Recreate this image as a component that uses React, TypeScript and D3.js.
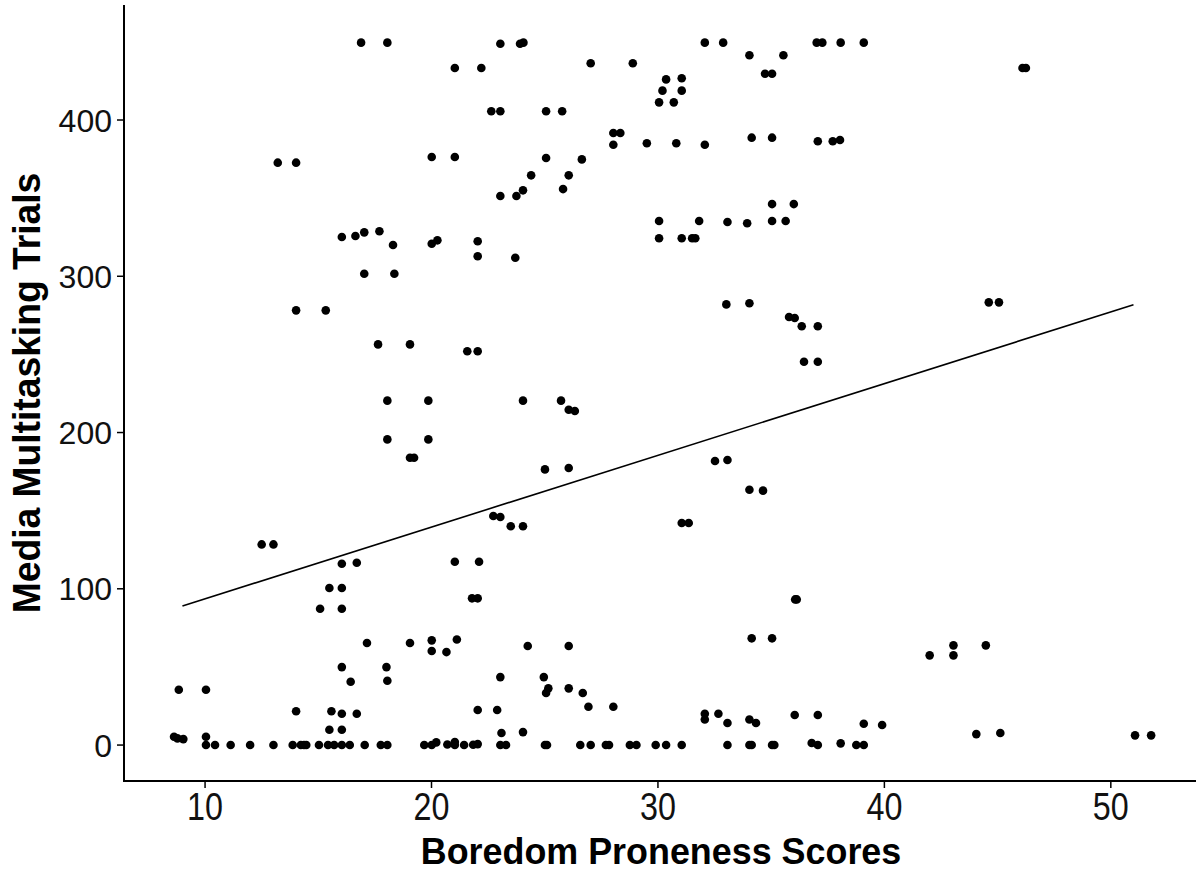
import React from "react";
import * as d3 from "d3";

// Boredom Proneness Scores (x) and Media Multitasking Trials (y)
const boredom: number[] = [
  16.89, 18.05, 21.03, 22.2, 13.21, 14.02, 20.01, 21.03, 16.04, 16.64, 17.03, 17.7, 18.3, 20.01, 20.26, 22.04, 22.04,
  17.03, 18.36, 14.02, 15.33, 17.64, 19.05, 21.58, 22.04,
  23.04, 23.91, 24.06, 27.03, 28.89, 32.07, 32.88, 34.04, 35.54, 34.73, 35.04, 37.01, 37.26, 38.07, 39.09,
  30.36, 31.05, 30.2, 31.05, 30.05, 30.7, 22.64, 23.04, 25.06, 25.77, 28.03, 28.34, 28.03, 29.51, 30.81, 32.07,
  34.14, 35.04, 37.06, 37.72, 38.04, 25.06, 26.64, 24.4, 26.06, 24.04, 25.81, 23.04, 23.75, 23.7,
  30.05, 31.82, 30.05, 31.05, 31.51, 31.65, 33.07, 33.94, 35.04, 36.0, 35.04, 35.64, 33.02, 34.04,
  35.79, 36.04, 36.35, 37.06, 36.45, 37.06,
  46.1, 46.25, 44.61, 45.06,
  18.05, 19.86, 18.05, 19.86, 19.05, 19.23, 12.5, 13.02, 16.04, 16.7, 21.03, 22.1, 15.49, 16.04, 15.08, 16.04,
  21.79, 22.04, 17.15, 19.05, 20.01, 20.01, 20.66, 21.12, 16.04, 16.43, 18.01, 18.05, 8.84, 10.04,
  14.02, 15.58, 16.04, 16.7, 15.49, 16.04, 22.04, 8.63, 8.78, 9.04, 10.04,
  10.04, 10.44, 11.13, 11.99, 13.02, 13.87, 14.23, 14.37, 14.47, 15.03, 15.43, 15.7, 16.04, 16.39, 17.05, 17.76,
  18.05, 19.68, 20.01, 20.21, 20.7, 21.03, 21.03, 21.44, 21.84, 22.04,
  24.04, 25.72, 26.06, 26.33, 25.01, 26.06, 22.73, 23.04, 23.5, 24.04, 32.52, 33.07, 34.04, 34.64, 31.05, 31.36,
  36.06, 36.13, 34.14, 35.04, 24.25, 26.06, 23.04, 24.96, 25.16, 25.06, 26.06, 26.68, 26.93, 28.03, 22.9,
  23.09, 24.04, 32.07, 32.07, 32.67, 33.07, 34.04, 34.33, 36.04, 37.06,
  23.04, 23.29, 25.01, 25.1, 26.57, 27.03, 27.7, 27.84, 28.76, 29.05, 29.9, 30.36, 31.05, 33.07, 34.04, 34.14,
  35.04, 35.14, 36.79, 37.06, 38.07,
  38.76, 39.09, 39.09, 39.9, 42.0, 43.05, 43.05, 44.48, 44.06, 45.12, 51.07, 51.78,
];

const trials: number[] = [
  449.5, 449.5, 433.3, 433.3, 372.7, 372.7, 376.3, 376.3, 325.1, 325.8, 328.1, 328.8, 320, 320.8, 323, 322.4, 312.8,
  301.6, 301.6, 278.2, 278.2, 256.4, 256.4, 252, 252,
  448.8, 448.8, 449.5, 436.3, 436.3, 449.5, 449.5, 441.4, 441.4, 429.6, 429.6, 449.5, 449.5, 449.5, 449.5,
  426, 426.7, 418.8, 418.8, 411.3, 411.3, 405.6, 405.6, 405.6, 405.6, 391.7, 391.7, 384.2, 385.1, 385.1, 384.2,
  388.7, 388.7, 386.4, 386.4, 387.2, 375.7, 374.8, 364.6, 364.6, 355, 355.8, 351.4, 351.4, 311.9,
  335.4, 335.4, 324.3, 324.3, 324.3, 324.3, 334.7, 333.9, 346.2, 346.2, 335.4, 335.4, 282, 282.7,
  273.9, 273.3, 268, 268, 245.3, 245.3,
  433.3, 433.3, 283.3, 283.3,
  220.4, 220.4, 195.6, 195.6, 183.9, 183.9, 128.4, 128.4, 116, 116.7, 117.3, 117.3, 100.5, 100.5, 87.2, 87.2,
  93.9, 93.9, 65.3, 65.3, 67, 60.2, 59.5, 67.6, 49.9, 40.5, 49.9, 41.2, 35.4, 35.4,
  21.6, 21.6, 20, 20, 9.8, 9.8, 22.4, 5.3, 4.3, 3.8, 5.3,
  0, 0, 0, 0, 0, 0, 0, 0, 0, 0, 0, 0, 0, 0, 0, 0,
  0, 0, 0, 1.7, 0.4, 1.9, 0, 0, 0.2, 0.6,
  220.4, 220.4, 214.6, 213.8, 176.4, 177.3, 146.6, 145.9, 140, 140, 181.8, 182.4, 163.4, 162.8, 142.1, 142.1,
  93.2, 93.2, 68.3, 68.3, 63.4, 63.4, 43.5, 43.5, 36.3, 33.3, 36.3, 33.3, 24.5, 24.5, 22.4,
  7.7, 8.3, 20, 16.4, 20, 14.1, 16.4, 14.1, 19.2, 19.2,
  0, 0, 0, 0, 0, 0, 0, 0, 0, 0, 0, 0, 0, 0, 0, 0,
  0, 0, 1.3, 0, 1.1,
  0, 0, 13.6, 12.8, 57.4, 63.8, 57.4, 63.8, 7, 7.7, 6.2, 6.2,
];

// Linear fit drawn across the observed score range
const fitRange: number[] = [9, 51];
const fitIntercept = 47.7;
const fitSlope = 4.59;

const xTicks: number[] = [10, 20, 30, 40, 50];
const yTicks: number[] = [0, 100, 200, 300, 400];

const xLabel = "Boredom Proneness Scores";
const yLabel = "Media Multitasking Trials";

const W = 1198;
const H = 873;
const panel = { left: 124, right: 1198, top: 5, bottom: 781 };

export default function App() {
  const x = d3.scaleLinear().domain([6.42, 53.85]).range([panel.left, panel.right]);
  const y = d3.scaleLinear().domain([-23, 473.6]).range([panel.bottom, panel.top]);

  const line = d3
    .line<number>()
    .x((d) => x(d))
    .y((d) => y(fitIntercept + fitSlope * d));

  const points = boredom.map((b, i) => ({ b, t: trials[i] }));
  const font = "Arial, 'Liberation Sans', Helvetica, sans-serif";

  return (
    <svg
      width={W}
      height={H}
      viewBox={`0 0 ${W} ${H}`}
      style={{ position: "absolute", left: 0, top: 0, background: "#fff" }}
      fontFamily={font}
    >
      <rect x={0} y={0} width={W} height={H} fill="#fff" />
      {/* points */}
      <g fill="#000">
        {points.map((p, i) => (
          <circle key={i} cx={x(p.b)} cy={y(p.t)} r={4.3} />
        ))}
      </g>
      {/* fit line */}
      <path d={line(fitRange) || ""} fill="none" stroke="#000" strokeWidth={1.6} />

      {/* axes */}
      <line x1={panel.left} x2={panel.left} y1={panel.top} y2={panel.bottom + 1} stroke="#000" strokeWidth={2} />
      <line x1={panel.left - 1} x2={W - 2} y1={panel.bottom} y2={panel.bottom} stroke="#000" strokeWidth={2} />

      {yTicks.map((t) => (
        <g key={"y" + t}>
          <line x1={panel.left - 7} x2={panel.left} y1={y(t)} y2={y(t)} stroke="#000" strokeWidth={1.5} />
          <text x={panel.left - 12} y={y(t)} dy="0.36em" textAnchor="end" fontSize={32} fill="#111">
            {t}
          </text>
        </g>
      ))}
      {xTicks.map((t) => (
        <g key={"x" + t}>
          <line x1={x(t)} x2={x(t)} y1={panel.bottom} y2={panel.bottom + 7} stroke="#000" strokeWidth={1.5} />
          <text
            x={0}
            y={0}
            textAnchor="middle"
            fontSize={38}
            fill="#111"
            transform={`translate(${x(t)},${820}) scale(0.85,1)`}
          >
            {t}
          </text>
        </g>
      ))}

      <text
        textAnchor="middle"
        fontSize={37}
        fontWeight="bold"
        fill="#000"
        transform={`translate(${(panel.left + panel.right) / 2},${864}) scale(0.97,1)`}
      >
        {xLabel}
      </text>
      <text
        textAnchor="middle"
        fontSize={38}
        fontWeight="bold"
        fill="#000"
        transform={`translate(${40},${(panel.top + panel.bottom) / 2}) rotate(-90) scale(0.98,1)`}
      >
        {yLabel}
      </text>
    </svg>
  );
}
